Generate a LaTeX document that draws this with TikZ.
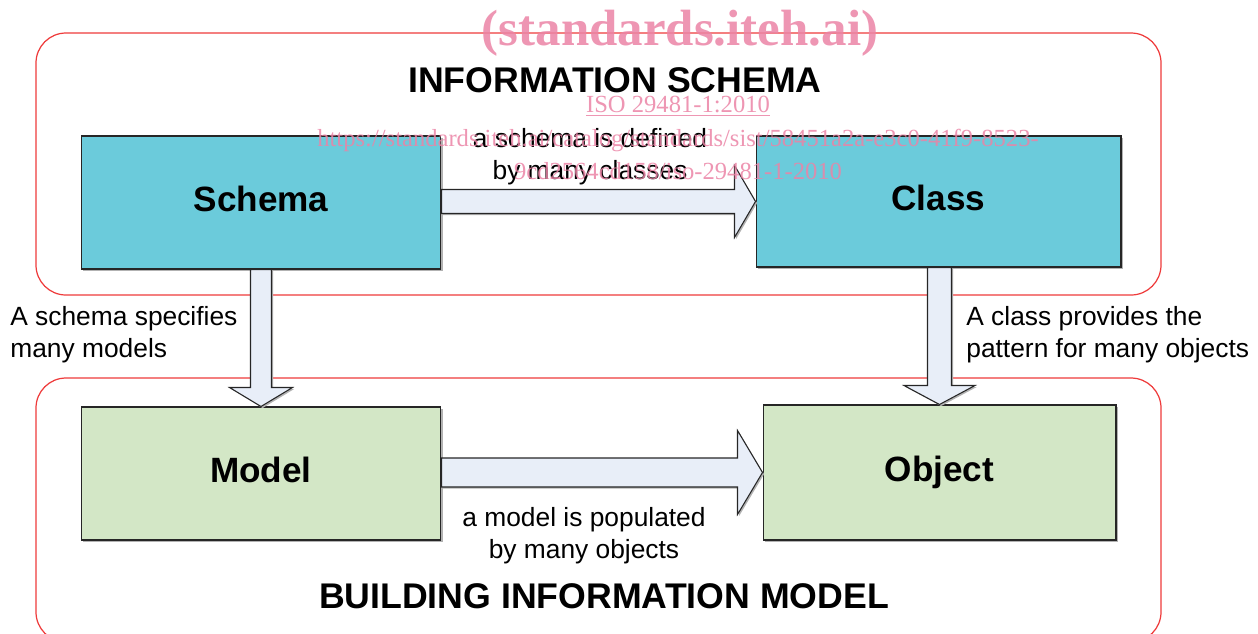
\documentclass[tikz,border=0pt]{standalone}
\usepackage{fontspec}
\setmainfont{Liberation Sans}
\newfontfamily\wmfont{Liberation Serif}
\usetikzlibrary{calc,shadows}
\definecolor{schemacyan}{HTML}{6BCBDB}
\definecolor{modelgreen}{HTML}{D3E7C6}
\definecolor{arrowfill}{HTML}{E8EEF8}
\definecolor{framered}{HTML}{EE3B3B}
\definecolor{wmpink}{HTML}{EB84A6}

% block arrows: start, tip, half shaft, half head, head length
\newcommand{\fatright}[5]{%
  \draw[fatarrow] ($(#1|-#2)+(0,#3)$) -- ($(#2)+(-#5,#3)$) -- ($(#2)+(-#5,#4)$) -- (#2)
    -- ($(#2)+(-#5,-#4)$) -- ($(#2)+(-#5,-#3)$) -- ($(#1|-#2)+(0,-#3)$) -- cycle;}
\newcommand{\fatdown}[5]{%
  \draw[fatarrow] ($(#1-|#2)+(-#3,0)$) -- ($(#2)+(-#3,-#5)$) -- ($(#2)+(-#4,-#5)$) -- (#2)
    -- ($(#2)+(#4,-#5)$) -- ($(#2)+(#3,-#5)$) -- ($(#1-|#2)+(#3,0)$) -- cycle;}

\begin{document}
\begin{tikzpicture}[x=0.02cm,y=-0.02cm,
    box/.style={draw=black!85,line width=0.6pt,inner sep=0pt,text depth=4pt,
      font=\fontsize{20}{24}\selectfont\bfseries,
      drop shadow={shadow xshift=0.9pt,shadow yshift=-0.9pt,fill=black!30,opacity=1}},
    fatarrow/.style={draw=black!85,line width=0.6pt,fill=arrowfill,line join=miter,
      drop shadow={shadow xshift=0.9pt,shadow yshift=-0.9pt,fill=black!30,opacity=1}},
    frame/.style={draw=framered,line width=0.7pt,rounded corners=0.6cm},
    heading/.style={font=\fontsize{20.3}{24}\selectfont\bfseries},
    label/.style={font=\fontsize{15}{18.2}\selectfont,inner sep=0pt},
    watermark/.style={text=wmpink,opacity=0.85,inner sep=0pt,font=\wmfont\fontsize{14}{16}\selectfont}]
    \useasboundingbox (0,0) rectangle (1258,633);
    % the two groups
    \draw[frame] (36,33) rectangle (1161,295);
    \draw[frame] (36,378) rectangle (1161,642);
    \node[heading] (infoschema) at (615,80) {INFORMATION SCHEMA};
    \node[heading] (bim) at (604,596) {BUILDING INFORMATION MODEL};
    % boxes
    \node[box,fill=schemacyan,minimum width=7.2cm,minimum height=2.66cm] (schema) at (261,202.5) {Schema};
    \node[box,fill=schemacyan,minimum width=7.3cm,minimum height=2.62cm] (class) at (938.5,201.5) {Class};
    \node[box,fill=modelgreen,minimum width=7.2cm,minimum height=2.66cm] (model) at (261,473.5) {Model};
    \node[box,fill=modelgreen,minimum width=7.06cm,minimum height=2.7cm] (object) at (939.5,472.5) {Object};
    % arrows
    \fatright{schema.east}{class.west}{12}{36}{21}
    \fatright{model.east}{object.west}{14.5}{42}{25}
    \fatdown{schema.south}{model.north}{10.5}{31.5}{19}
    \fatdown{class.south}{object.north}{12}{35.5}{19}
    % arrow labels
    \node[label,align=center] (defined) at (590,157) {a schema is defined\\by many classes};
    \node[label,align=center] (populated) at (584,536) {a model is populated\\by many objects};
    \node[label,align=left,anchor=west] (specifies) at (10,335) {A schema specifies\\many models};
    \node[label,align=left,anchor=west] (provides) at (966,335) {A class provides the\\pattern for many objects};
    % watermark
    \node[watermark,font=\wmfont\bfseries\fontsize{29}{32}\selectfont] (wmsite) at (680,33) {(standards.iteh.ai)};
    \node[watermark] (wmiso) at (678,106) {\underline{ISO 29481-1:2010}};
    \node[watermark] (wmurl) at (678,140) {https://standards.iteh.ai/catalog/standards/sist/58451a2a-e3c0-41f9-8523-};
    \node[watermark] (wmurltail) at (678,171) {9cd2564cd158/iso-29481-1-2010};
\end{tikzpicture}
\end{document}
